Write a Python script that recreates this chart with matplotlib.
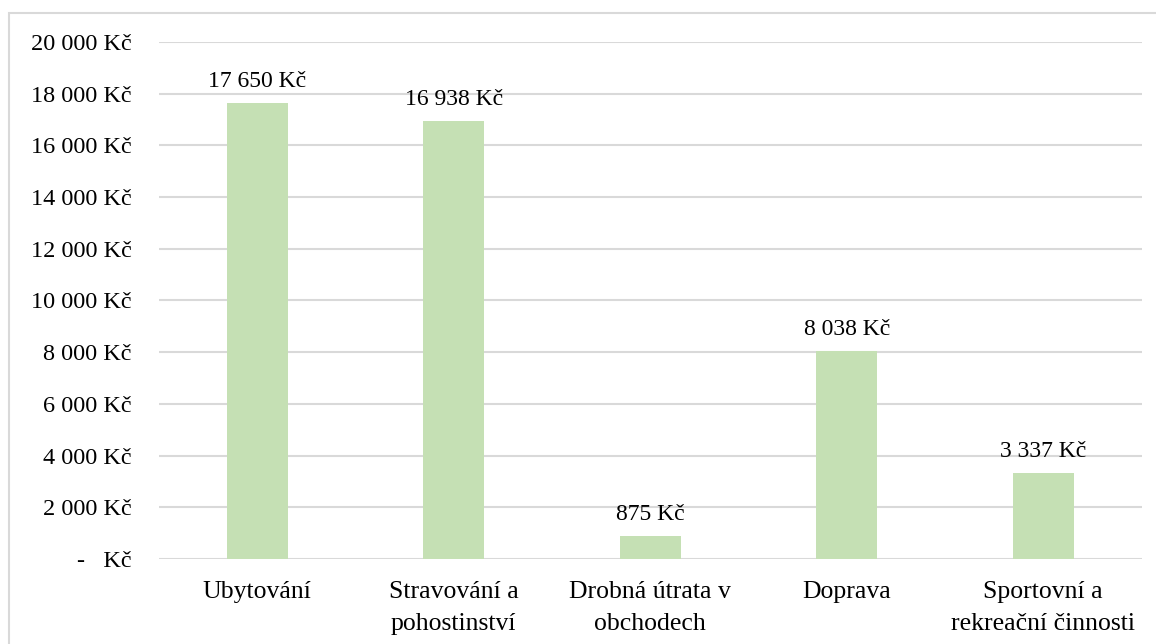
import matplotlib.pyplot as plt
from matplotlib.patches import Rectangle

categories = ["Ubytování", "Stravování a\npohostinství", "Drobná útrata v\nobchodech",
              "Doprava", "Sportovní a\nrekreační činnosti"]
values = [17650, 16938, 875, 8038, 3337]
value_labels = ["17 650 Kč", "16 938 Kč", "875 Kč", "8 038 Kč", "3 337 Kč"]
yticks = [0, 2000, 4000, 6000, 8000, 10000, 12000, 14000, 16000, 18000, 20000]
ytick_labels = ["-   Kč", "2 000 Kč", "4 000 Kč", "6 000 Kč", "8 000 Kč", "10 000 Kč",
                "12 000 Kč", "14 000 Kč", "16 000 Kč", "18 000 Kč", "20 000 Kč"]

plt.rcParams['font.family'] = ['Liberation Serif', 'DejaVu Serif']
plt.rcParams['font.size'] = 17

fig = plt.figure(figsize=(11.56, 6.44), dpi=100)
ax = fig.add_axes([0.1375, 0.132, 0.85, 0.803])

x = range(len(categories))
ax.bar(x, values, width=0.31, color="#C5E0B4", zorder=3)
for xi, v, lab in zip(x, values, value_labels):
    ax.annotate(lab, (xi, v), xytext=(0, 11.5), textcoords="offset points",
                ha="center", va="baseline", fontsize=17)

ax.set_xlim(-0.5, len(categories) - 0.5)
ax.set_ylim(0, 20000)
ax.set_yticks(yticks)
ax.set_yticklabels(ytick_labels, fontsize=17.5)
ax.set_xticks(list(x))
ax.set_xticklabels(categories, linespacing=1.6, fontsize=18.5)
ax.tick_params(axis="both", length=0)
ax.tick_params(axis="y", pad=19.5)
ax.tick_params(axis="x", pad=16)
ax.grid(axis="y", color="#D9D9D9", linewidth=1.5, zorder=0)
for s in ax.spines.values():
    s.set_visible(False)

# outer chart border (cut off at right and bottom edges, as in the source)
fig.patches.append(Rectangle((9 / 1156, -0.1), 1.2, 1.1 - 13 / 644,
                             transform=fig.transFigure, fill=False,
                             edgecolor="#D9D9D9", linewidth=1.5))

fig.savefig("out.png", dpi=100)
